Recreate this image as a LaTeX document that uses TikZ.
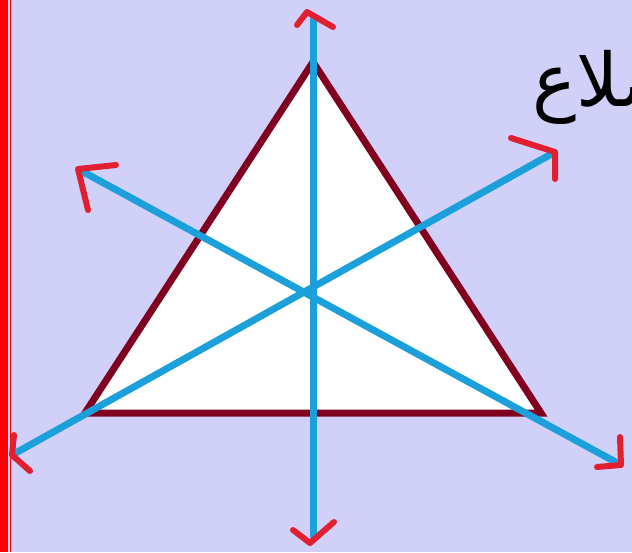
\documentclass[tikz,border=0pt]{standalone}
\usepackage{fontspec}
\newfontfamily\arabicfont[Script=Arabic]{DejaVu Sans}
\TeXXeTstate=1
\definecolor{bg}{RGB}{208,208,248}
\definecolor{axisblue}{RGB}{28,160,220}
\definecolor{maroon}{RGB}{128,0,32}
\definecolor{arrred}{RGB}{224,32,48}
\tikzset{
  tri/.style={draw=maroon, fill=white, line width=7pt, line join=miter},
  axisline/.style={draw=axisblue, line width=7pt, line cap=butt},
  vhead/.style={draw=arrred, line width=6pt, line cap=round, line join=round},
}
\begin{document}
\begin{tikzpicture}[x=1pt,y=-1pt]
\useasboundingbox (0,0) rectangle (632,552);
\clip (0,0) rectangle (632,552);
\fill[bg] (0,0) rectangle (632,552);
\fill[red] (0,0) rectangle (8,552);
\draw[red, line width=1pt] (10,0) -- (10,552);
% triangle
\coordinate (A) at (313,62);
\coordinate (B) at (85,413);
\coordinate (C) at (541,413);
\draw[tri] (A) -- (B) -- (C) -- cycle;
% axis end points
\coordinate (T) at (313,18);
\coordinate (Bo) at (313,538);
\coordinate (UL) at (78,169);
\coordinate (LR) at (621,465);
\coordinate (LL) at (12,455);
\coordinate (UR) at (555,152);
\draw[axisline] (T) -- (Bo);
\draw[axisline] (UL) -- (LR);
\draw[axisline] (LL) -- (UR);
% hand drawn heads
\coordinate (t1) at (297,25); \coordinate (t2) at (333,27);
\draw[vhead] (t1) -- (307,12) -- (t2);
\coordinate (b1) at (293,530); \coordinate (b2) at (334,522);
\draw[vhead] (b1) -- (310,543) -- (b2);
\coordinate (ul1) at (116,165); \coordinate (ul2) at (88,210);
\draw[vhead] (ul1) -- (UL) -- (ul2);
\coordinate (ur1) at (511,138); \coordinate (ur2) at (555,179);
\draw[vhead] (ur1) -- (UR) -- (ur2);
\coordinate (ll1) at (14,435); \coordinate (ll2) at (30,471);
\draw[vhead] (ll1) -- (LL) -- (ll2);
\coordinate (lr1) at (620,437); \coordinate (lr2) at (597,467);
\draw[vhead] (lr1) -- (LR) -- (lr2);
% label
\node[anchor=base west, inner sep=0pt, font=\arabicfont\fontsize{74}{74}\selectfont] (lbl) at (532,106) {\beginR الأضلاع\endR};
\end{tikzpicture}
\end{document}
